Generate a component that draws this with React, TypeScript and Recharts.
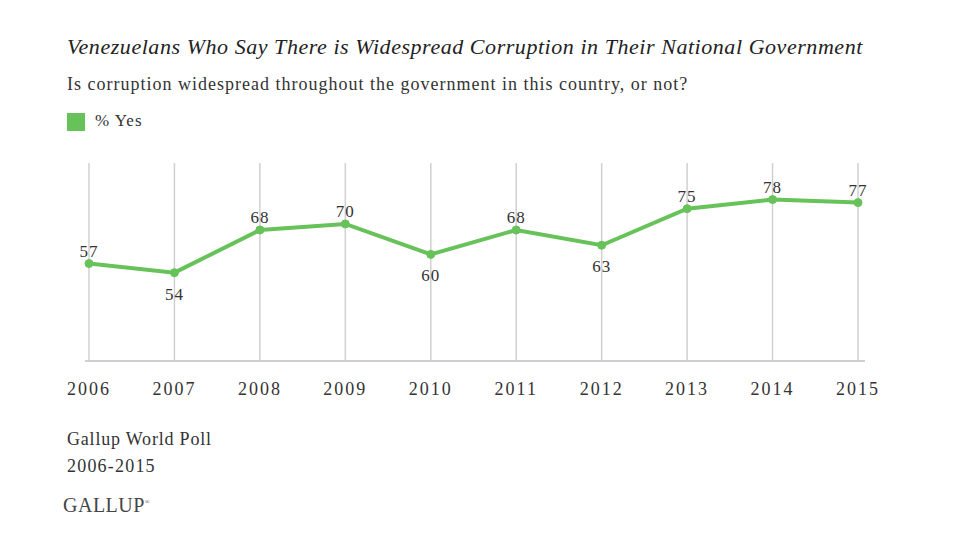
import React from "react";
import { LineChart, Line, XAxis, YAxis, ReferenceLine, LabelList } from "recharts";

const years = ["2006", "2007", "2008", "2009", "2010", "2011", "2012", "2013", "2014", "2015"];
const yesValues = [57, 54, 68, 70, 60, 68, 63, 75, 78, 77];

const title = "Venezuelans Who Say There is Widespread Corruption in Their National Government";
const subtitle = "Is corruption widespread throughout the government in this country, or not?";
const legendLabel = "% Yes";
const sourceLines = ["Gallup World Poll", "2006-2015"];
const brand = "GALLUP";

const data = years.map((y, i) => ({ year: y, yes: yesValues[i] }));

const GREEN = "#67c25a";
const SERIF = "'Liberation Serif', 'DejaVu Serif', serif";

const isLocalMin = (i: number) => {
  const v = yesValues[i];
  const prev = i > 0 ? yesValues[i - 1] : undefined;
  const next = i < yesValues.length - 1 ? yesValues[i + 1] : undefined;
  if (prev === undefined || next === undefined) return false;
  return v < prev && v < next;
};

const ValueLabel = (props: any) => {
  const { x, y, value, index } = props;
  const below = isLocalMin(index);
  return (
    <text
      x={x}
      y={below ? y + 27 : y - 7}
      textAnchor="middle"
      fontFamily={SERIF}
      fontSize={17}
      letterSpacing={1}
      fill="#333"
    >
      {value}
    </text>
  );
};

export default function App() {
  return (
    <div style={{ position: "absolute", left: 0, top: 0, width: 960, height: 554, background: "#fff", fontFamily: SERIF }}>
      <div style={{ position: "absolute", left: 67, top: 34, fontSize: 22, letterSpacing: 0.55, fontStyle: "italic", color: "#222", whiteSpace: "nowrap" }}>
        {title}
      </div>
      <div style={{ position: "absolute", left: 67, top: 74, fontSize: 18, letterSpacing: 1, color: "#333", whiteSpace: "nowrap" }}>
        {subtitle}
      </div>
      <div style={{ position: "absolute", left: 67, top: 113, width: 18, height: 18, background: GREEN }} />
      <div style={{ position: "absolute", left: 95, top: 111, fontSize: 17, letterSpacing: 1, color: "#333", whiteSpace: "nowrap" }}>
        {legendLabel}
      </div>
      <div style={{ position: "absolute", left: 0, top: 0 }}>
        <LineChart
          width={960}
          height={554}
          data={data}
          margin={{ top: 163, right: 95, left: 85, bottom: 163 }}
        >
          {years.map((y) => (
            <ReferenceLine key={y} x={y} stroke="#d0d0d0" strokeWidth={1.5} />
          ))}
          <XAxis
            dataKey="year"
            height={30}
            padding={{ left: 4, right: 7 }}
            tickLine={false}
            axisLine={{ stroke: "#cfcfcf", strokeWidth: 2 }}
            tickMargin={15}
            tick={{ fontFamily: SERIF, fontSize: 18, fill: "#333", letterSpacing: 2 }}
            interval={0}
          />
          <YAxis hide domain={[25, 90]} width={0} />
          <Line
            type="linear"
            dataKey="yes"
            stroke={GREEN}
            strokeWidth={4}
            dot={{ r: 4, fill: GREEN, stroke: GREEN, strokeWidth: 1 }}
            isAnimationActive={false}
          >
            <LabelList dataKey="yes" content={<ValueLabel />} />
          </Line>
        </LineChart>
      </div>
      <div style={{ position: "absolute", left: 67, top: 426, fontSize: 18, color: "#333", lineHeight: "27px", whiteSpace: "nowrap" }}>
        <div style={{ letterSpacing: 0.8 }}>{sourceLines[0]}</div>
        <div style={{ letterSpacing: 1.2 }}>{sourceLines[1]}</div>
      </div>
      <div style={{ position: "absolute", left: 63, top: 494, fontSize: 20, color: "#444", letterSpacing: 0.5, whiteSpace: "nowrap" }}>
        {brand}
        <sup style={{ fontSize: 6 }}>®</sup>
      </div>
    </div>
  );
}
